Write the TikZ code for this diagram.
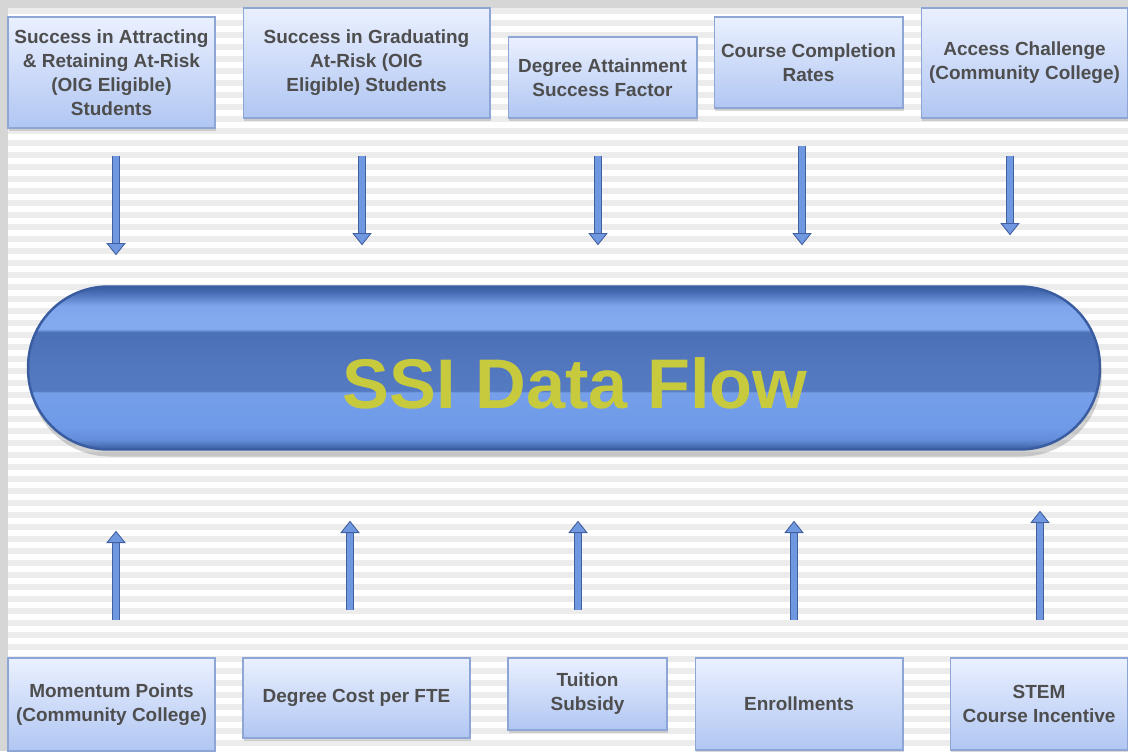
\documentclass[tikz,border=0pt]{standalone}
\usepackage{fontspec}
\setmainfont{Liberation Sans}
\usetikzlibrary{arrows.meta, shadows}
\definecolor{SSIFrame}{RGB}{214,214,214}
\definecolor{SSIStripe}{RGB}{236,236,236}
\definecolor{SSIBoxTop}{RGB}{234,240,255}
\definecolor{SSIBoxBot}{RGB}{176,198,242}
\definecolor{SSIBoxLine}{RGB}{142,166,214}
\definecolor{SSIText}{RGB}{78,78,78}
\definecolor{SSIArrow}{RGB}{112,152,224}
\definecolor{SSIArrowLine}{RGB}{66,96,160}
\definecolor{SSIPillEdge}{RGB}{58,92,160}
\definecolor{SSIPillHi}{RGB}{132,170,238}
\definecolor{SSIPillMid}{RGB}{76,112,182}
\definecolor{SSIPillLow}{RGB}{110,154,232}
\definecolor{SSITitle}{RGB}{200,202,62}
\pgfdeclareverticalshading{pillshade}{100bp}{color(0bp)=(SSIPillEdge); color(25bp)=(SSIPillEdge); color(28bp)=(SSIPillLow!80!SSIPillEdge); color(32bp)=(SSIPillLow); color(42.5bp)=(SSIPillLow!95!white); color(43bp)=(SSIPillMid!75!SSIPillLow); color(52bp)=(SSIPillMid!85!SSIPillLow); color(61bp)=(SSIPillMid); color(62bp)=(SSIPillHi); color(69bp)=(SSIPillHi!80!SSIPillLow); color(73bp)=(SSIPillEdge!70!SSIPillLow); color(75bp)=(SSIPillEdge); color(100bp)=(SSIPillEdge)}

\begin{document}
\begin{tikzpicture}[
  x=0.02cm, y=-0.02cm,
  databox/.style={
    rectangle, draw=SSIBoxLine, line width=0.6pt,
    top color=SSIBoxTop, bottom color=SSIBoxBot,
    text=SSIText, font=\fontsize{10.8}{13.6}\selectfont\bfseries,
    align=center, inner sep=1pt,
    drop shadow={shadow xshift=0.6pt, shadow yshift=-1.6pt, opacity=0.3}
  },
  pill/.style={
    rectangle, rounded corners=1.6cm,
    minimum width=21.44cm, minimum height=3.26cm,
    shading=pillshade, draw=SSIPillEdge, line width=1.4pt,
    drop shadow={shadow xshift=1pt, shadow yshift=-4pt, opacity=0.35}
  },
  title/.style={font=\fontsize{40}{40}\selectfont\bfseries, text=SSITitle},
  flowarrow/.style={
    draw=SSIArrowLine, line width=0.5pt,
    double=SSIArrow, double distance=3.4pt,
    -{Triangle[length=7pt, width=11pt, fill=SSIArrow]}
  },
]
\useasboundingbox (0,0) rectangle (1128,751);
% background
\fill[SSIFrame] (0,0) rectangle (1128,751);
\fill[white] (8,8) rectangle (1128,751);
\foreach \s in {8,20,...,740}
  \fill[SSIStripe] (8,\s) rectangle (1128,\s+6);

% centre
\node[pill] (pill) at (564,368) {};
\node[title] (title) at (575,383) {SSI Data Flow};

% top row
\node[databox, minimum width=4.14cm, minimum height=2.22cm] (att) at (111.5,72.5)
  {Success in Attracting\\\& Retaining At-Risk\\(OIG Eligible)\\Students};
\node[databox, minimum width=4.94cm, minimum height=2.2cm] (grad) at (366.5,63)
  {Success in Graduating\\At-Risk (OIG\\Eligible) Students};
\node[databox, minimum width=3.78cm, minimum height=1.62cm] (degree) at (602.5,77.5)
  {Degree Attainment\\Success Factor};
\node[databox, minimum width=3.78cm, minimum height=1.82cm] (course) at (808.5,62.5)
  {Course Completion\\Rates};
\node[databox, minimum width=4.14cm, minimum height=2.2cm] (access) at (1024.5,63)
  {Access Challenge\\(Community College)};

% bottom row
\node[databox, minimum width=4.14cm, minimum height=1.86cm] (momentum) at (111.5,704.5)
  {Momentum Points\\(Community College)};
\node[databox, minimum width=4.54cm, minimum height=1.6cm] (cost) at (356.5,698)
  {Degree Cost per FTE};
\node[databox, minimum width=3.18cm, minimum height=1.44cm] (tuition) at (587.5,694)
  {Tuition\\Subsidy};
\node[databox, minimum width=4.16cm, minimum height=1.84cm] (enroll) at (799,704)
  {Enrollments};
\node[databox, minimum width=3.56cm, minimum height=1.84cm] (stem) at (1039,704)
  {STEM\\Course Incentive};

% arrows into the flow
\draw[flowarrow, shorten <=0.54cm, shorten >=0.6cm] ([xshift=0.09cm]att.south) -- ([xshift=0.09cm]att.south |- pill.north);
\draw[flowarrow, shorten <=0.74cm, shorten >=0.8cm] ([xshift=-0.09cm]grad.south) -- ([xshift=-0.09cm]grad.south |- pill.north);
\draw[flowarrow, shorten <=0.74cm, shorten >=0.8cm] ([xshift=-0.09cm]degree.south) -- ([xshift=-0.09cm]degree.south |- pill.north);
\draw[flowarrow, shorten <=0.74cm, shorten >=0.8cm] ([xshift=-0.13cm]course.south) -- ([xshift=-0.13cm]course.south |- pill.north);
\draw[flowarrow, shorten <=0.74cm, shorten >=1.0cm] ([xshift=-0.29cm]access.south) -- ([xshift=-0.29cm]access.south |- pill.north);

\draw[flowarrow, shorten <=0.76cm, shorten >=1.6cm] ([xshift=0.09cm]momentum.north) -- ([xshift=0.09cm]momentum.north |- pill.south);
\draw[flowarrow, shorten <=0.96cm, shorten >=1.4cm] ([xshift=-0.13cm]cost.north) -- ([xshift=-0.13cm]cost.north |- pill.south);
\draw[flowarrow, shorten <=0.96cm, shorten >=1.4cm] ([xshift=-0.19cm]tuition.north) -- ([xshift=-0.19cm]tuition.north |- pill.south);
\draw[flowarrow, shorten <=0.76cm, shorten >=1.4cm] ([xshift=-0.1cm]enroll.north) -- ([xshift=-0.1cm]enroll.north |- pill.south);
\draw[flowarrow, shorten <=0.76cm, shorten >=1.2cm] ([xshift=0.02cm]stem.north) -- ([xshift=0.02cm]stem.north |- pill.south);
\end{tikzpicture}
\end{document}
